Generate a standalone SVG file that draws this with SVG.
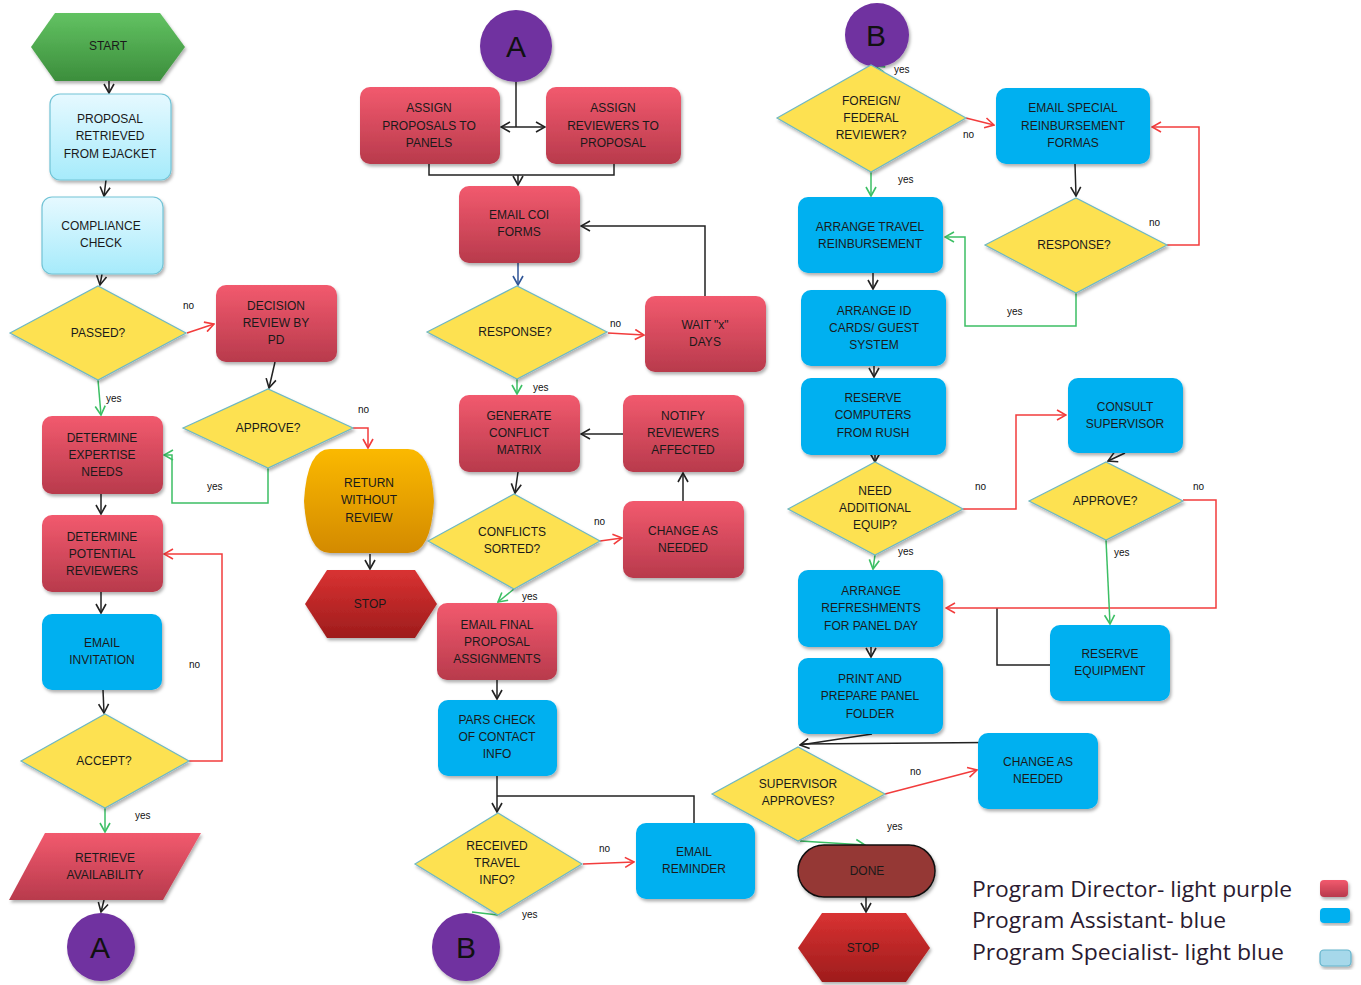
<svg xmlns="http://www.w3.org/2000/svg" width="1361" height="985" viewBox="0 0 1361 985">
<style>
.t{font-family:"Liberation Sans",Arial,sans-serif;font-size:12px;fill:#1a1a1a;text-anchor:middle}
.big{font-family:"Liberation Sans",Arial,sans-serif;font-size:30px;fill:#111;text-anchor:middle}
.lbl{font-family:"Liberation Sans",Arial,sans-serif;font-size:10px;fill:#111}
.leg{font-family:"Open Sans","Liberation Sans",sans-serif;font-size:21px;fill:#2a1a30}
.dir{fill:url(#gRed);filter:url(#sh)}
.asst{fill:#00b0f0;filter:url(#sh)}
.spec{fill:url(#gLight);stroke:#72c4d6;stroke-width:1.2;filter:url(#sh)}
.dec{fill:#fde151;stroke:#6fb8c2;stroke-width:1.2;filter:url(#sh)}
.circ{fill:#7030a0;filter:url(#sh)}
.c{fill:none;stroke:#222;stroke-width:1.5}
.r{stroke:#f23c3c}
.g{stroke:#3cbf64}
.b{stroke:#2f5597}
.ma{marker-end:url(#ak)}
.mr{marker-end:url(#ar)}
.mg{marker-end:url(#ag)}
.mb{marker-end:url(#ab)}
</style>
<defs>
<linearGradient id="gRed" x1="0" y1="0" x2="0" y2="1"><stop offset="0" stop-color="#f25a6e"/><stop offset="1" stop-color="#b83a4c"/></linearGradient>
<linearGradient id="gLight" x1="0" y1="0" x2="0" y2="1"><stop offset="0" stop-color="#e6f9ff"/><stop offset="1" stop-color="#a6ebfb"/></linearGradient>
<linearGradient id="gGreen" x1="0" y1="0" x2="0" y2="1"><stop offset="0" stop-color="#62c262"/><stop offset="1" stop-color="#3c8e3c"/></linearGradient>
<linearGradient id="gOrange" x1="0" y1="0" x2="0" y2="1"><stop offset="0" stop-color="#fbb900"/><stop offset="1" stop-color="#d38a00"/></linearGradient>
<linearGradient id="gStop" x1="0" y1="0" x2="0" y2="1"><stop offset="0" stop-color="#d93232"/><stop offset="1" stop-color="#9e1c1c"/></linearGradient>
<filter id="sh" x="-20%" y="-20%" width="140%" height="140%"><feDropShadow dx="1.5" dy="2.5" stdDeviation="1.8" flood-color="#000" flood-opacity="0.3"/></filter>
<marker id="ak" viewBox="0 0 12 12" refX="11" refY="6" markerWidth="12" markerHeight="12" markerUnits="userSpaceOnUse" orient="auto"><path d="M2,1 L11,6 L2,11" fill="none" stroke="#222" stroke-width="1.6"/></marker>
<marker id="ar" viewBox="0 0 12 12" refX="11" refY="6" markerWidth="12" markerHeight="12" markerUnits="userSpaceOnUse" orient="auto"><path d="M2,1 L11,6 L2,11" fill="none" stroke="#f23c3c" stroke-width="1.6"/></marker>
<marker id="ag" viewBox="0 0 12 12" refX="11" refY="6" markerWidth="12" markerHeight="12" markerUnits="userSpaceOnUse" orient="auto"><path d="M2,1 L11,6 L2,11" fill="none" stroke="#3cbf64" stroke-width="1.6"/></marker>
<marker id="ab" viewBox="0 0 12 12" refX="11" refY="6" markerWidth="12" markerHeight="12" markerUnits="userSpaceOnUse" orient="auto"><path d="M2,1 L11,6 L2,11" fill="none" stroke="#2f5597" stroke-width="1.6"/></marker>
</defs>
<rect width="1361" height="985" fill="#fff"/>

<g id="connectors">
<path class="c ma" d="M109,81 L109,93"/>
<path class="c ma" d="M106,180 L104,196"/>
<path class="c ma" d="M102,274 L100,285"/>
<path class="c r mr" d="M187,333 L214,324"/>
<path class="c g mg" d="M98,380 L101,415"/>
<path class="c ma" d="M275,362 L269,388"/>
<path class="c r mr" d="M353,428 L368,428 L368,448"/>
<path class="c g mg" d="M268,468 L268,503 L172,503 L172,455 L164,455"/>
<path class="c ma" d="M370,554 L370,569"/>
<path class="c ma" d="M101,494 L101,514"/>
<path class="c ma" d="M101,592 L101,613"/>
<path class="c ma" d="M103,690 L104,713"/>
<path class="c r mr" d="M189,761 L222,761 L222,554 L164,554"/>
<path class="c g mg" d="M105,808 L105,832"/>
<path class="c ma" d="M104,900 L101,912"/>
<path class="c" d="M516,82 L516,127"/>
<path class="c ma" d="M516,127 L501,127"/>
<path class="c ma" d="M516,127 L545,127"/>
<path class="c" d="M429,164 L429,175 L614,175 L614,164"/>
<path class="c ma" d="M518,175 L518,185"/>
<path class="c b mb" d="M518,263 L518,285"/>
<path class="c r mr" d="M608,333 L644,335"/>
<path class="c ma" d="M705,296 L705,226 L581,226"/>
<path class="c g mg" d="M517,379 L517,394"/>
<path class="c ma" d="M623,434 L581,434"/>
<path class="c ma" d="M518,472 L515,493"/>
<path class="c r mr" d="M600,541 L622,538"/>
<path class="c ma" d="M683,501 L683,473"/>
<path class="c g mg" d="M514,589 L498,602"/>
<path class="c ma" d="M497,680 L497,699"/>
<path class="c ma" d="M497,776 L497,812"/>
<path class="c" d="M694,823 L694,796 L497,796"/>
<path class="c r mr" d="M583,864 L634,862"/>
<path class="c g" d="M498,915 L472,912"/>
<path class="c g mg" d="M884,72 L875,66"/>
<path class="c r mr" d="M966,118 L994,125"/>
<path class="c g mg" d="M871,172 L871,196"/>
<path class="c ma" d="M1075,164 L1076,196"/>
<path class="c r mr" d="M1167,245 L1199,245 L1199,127 L1152,127"/>
<path class="c g mg" d="M1076,293 L1076,326 L965,326 L965,237 L945,237"/>
<path class="c ma" d="M873,273 L873,289"/>
<path class="c ma" d="M874,366 L874,377"/>
<path class="c ma" d="M875,455 L875,462"/>
<path class="c r mr" d="M963,509 L1016,509 L1016,415 L1066,415"/>
<path class="c ma" d="M1125,453 L1108,461"/>
<path class="c" d="M1050,665 L997,665 L997,608"/>
<path class="c r mr" d="M1183,500 L1216,500 L1216,608 L946,608"/>
<path class="c g mg" d="M1106,540 L1110,624"/>
<path class="c g mg" d="M875,555 L873,569"/>
<path class="c ma" d="M871,647 L871,657"/>
<path class="c" d="M1040,733 L1040,742 L801,744"/>
<path class="c ma" d="M872,734 L800,745"/>
<path class="c r mr" d="M885,794 L977,770"/>
<path class="c g mg" d="M800,841 L865,845"/>
<path class="c ma" d="M866,897 L866,912"/>
</g>

<g id="edge-labels">
<text class="lbl" x="183" y="309">no</text>
<text class="lbl" x="106" y="402">yes</text>
<text class="lbl" x="358" y="413">no</text>
<text class="lbl" x="207" y="490">yes</text>
<text class="lbl" x="189" y="668">no</text>
<text class="lbl" x="135" y="819">yes</text>
<text class="lbl" x="610" y="327">no</text>
<text class="lbl" x="533" y="391">yes</text>
<text class="lbl" x="594" y="525">no</text>
<text class="lbl" x="522" y="600">yes</text>
<text class="lbl" x="599" y="852">no</text>
<text class="lbl" x="522" y="918">yes</text>
<text class="lbl" x="894" y="73">yes</text>
<text class="lbl" x="963" y="138">no</text>
<text class="lbl" x="898" y="183">yes</text>
<text class="lbl" x="1149" y="226">no</text>
<text class="lbl" x="1007" y="315">yes</text>
<text class="lbl" x="975" y="490">no</text>
<text class="lbl" x="1193" y="490">no</text>
<text class="lbl" x="898" y="555">yes</text>
<text class="lbl" x="1114" y="556">yes</text>
<text class="lbl" x="910" y="775">no</text>
<text class="lbl" x="887" y="830">yes</text>
</g>

<g id="start"><polygon points="31,47 55,13 160,13 185,47 160,81 55,81" fill="url(#gGreen)" filter="url(#sh)"/><text class="t" x="108" y="50">START</text></g>
<g id="proposal-retrieved"><rect class="spec" x="50" y="94" width="121" height="86" rx="10"/><text class="t" x="110" y="123">PROPOSAL</text><text class="t" x="110" y="140">RETRIEVED</text><text class="t" x="110" y="158">FROM EJACKET</text></g>
<g id="compliance-check"><rect class="spec" x="42" y="197" width="121" height="77" rx="10"/><text class="t" x="101" y="230">COMPLIANCE</text><text class="t" x="101" y="247">CHECK</text></g>
<g id="passed"><polygon class="dec" points="10,333 98,286 186,333 98,380"/><text class="t" x="98" y="337">PASSED?</text></g>
<g id="decision-review"><rect class="dir" x="216" y="285" width="121" height="77" rx="10"/><text class="t" x="276" y="310">DECISION</text><text class="t" x="276" y="327">REVIEW BY</text><text class="t" x="276" y="344">PD</text></g>
<g id="approve-pd"><polygon class="dec" points="183,428 268,389 353,428 268,468"/><text class="t" x="268" y="432">APPROVE?</text></g>
<g id="return-without-review"><path d="M330,449 H408 Q431,449 434,501 Q431,553 408,553 H330 Q307,553 304,501 Q307,449 330,449 Z" fill="url(#gOrange)" filter="url(#sh)"/><text class="t" x="369" y="487">RETURN</text><text class="t" x="369" y="504">WITHOUT</text><text class="t" x="369" y="522">REVIEW</text></g>
<g id="stop-1"><polygon points="305,604 327,570 415,570 437,604 415,638 327,638" fill="url(#gStop)" filter="url(#sh)"/><text class="t" x="370" y="608">STOP</text></g>
<g id="determine-expertise"><rect class="dir" x="42" y="416" width="121" height="78" rx="10"/><text class="t" x="102" y="442">DETERMINE</text><text class="t" x="102" y="459">EXPERTISE</text><text class="t" x="102" y="476">NEEDS</text></g>
<g id="determine-reviewers"><rect class="dir" x="42" y="515" width="121" height="77" rx="10"/><text class="t" x="102" y="541">DETERMINE</text><text class="t" x="102" y="558">POTENTIAL</text><text class="t" x="102" y="575">REVIEWERS</text></g>
<g id="email-invitation"><rect class="asst" x="42" y="614" width="120" height="76" rx="10"/><text class="t" x="102" y="647">EMAIL</text><text class="t" x="102" y="664">INVITATION</text></g>
<g id="accept"><polygon class="dec" points="21,761 105,714 189,761 105,808"/><text class="t" x="104" y="765">ACCEPT?</text></g>
<g id="retrieve-availability"><polygon points="45,833 201,833 163,900 9,900" fill="url(#gRed)" filter="url(#sh)"/><text class="t" x="105" y="862">RETRIEVE</text><text class="t" x="105" y="879">AVAILABILITY</text></g>
<g id="connector-a-out"><circle class="circ" cx="101" cy="947" r="34"/><text class="big" x="100" y="958">A</text></g>

<g id="connector-a-in"><circle class="circ" cx="516" cy="46" r="36"/><text class="big" x="516" y="57">A</text></g>
<g id="assign-proposals"><rect class="dir" x="360" y="87" width="140" height="77" rx="10"/><text class="t" x="429" y="112">ASSIGN</text><text class="t" x="429" y="130">PROPOSALS TO</text><text class="t" x="429" y="147">PANELS</text></g>
<g id="assign-reviewers"><rect class="dir" x="546" y="87" width="135" height="77" rx="10"/><text class="t" x="613" y="112">ASSIGN</text><text class="t" x="613" y="130">REVIEWERS TO</text><text class="t" x="613" y="147">PROPOSAL</text></g>
<g id="email-coi"><rect class="dir" x="459" y="186" width="121" height="77" rx="10"/><text class="t" x="519" y="219">EMAIL COI</text><text class="t" x="519" y="236">FORMS</text></g>
<g id="response-1"><polygon class="dec" points="427,332 517,286 607,332 517,379"/><text class="t" x="515" y="336">RESPONSE?</text></g>
<g id="wait-days"><rect class="dir" x="645" y="296" width="121" height="76" rx="10"/><text class="t" x="705" y="329">WAIT "x"</text><text class="t" x="705" y="346">DAYS</text></g>
<g id="generate-matrix"><rect class="dir" x="459" y="395" width="121" height="77" rx="10"/><text class="t" x="519" y="420">GENERATE</text><text class="t" x="519" y="437">CONFLICT</text><text class="t" x="519" y="454">MATRIX</text></g>
<g id="notify-reviewers"><rect class="dir" x="623" y="395" width="121" height="77" rx="10"/><text class="t" x="683" y="420">NOTIFY</text><text class="t" x="683" y="437">REVIEWERS</text><text class="t" x="683" y="454">AFFECTED</text></g>
<g id="conflicts-sorted"><polygon class="dec" points="428,541 514,494 600,541 514,589"/><text class="t" x="512" y="536">CONFLICTS</text><text class="t" x="512" y="553">SORTED?</text></g>
<g id="change-as-needed-1"><rect class="dir" x="623" y="501" width="121" height="77" rx="10"/><text class="t" x="683" y="535">CHANGE AS</text><text class="t" x="683" y="552">NEEDED</text></g>
<g id="email-final"><rect class="dir" x="437" y="603" width="120" height="77" rx="10"/><text class="t" x="497" y="629">EMAIL FINAL</text><text class="t" x="497" y="646">PROPOSAL</text><text class="t" x="497" y="663">ASSIGNMENTS</text></g>
<g id="pars-check"><rect class="asst" x="438" y="700" width="119" height="76" rx="10"/><text class="t" x="497" y="724">PARS CHECK</text><text class="t" x="497" y="741">OF CONTACT</text><text class="t" x="497" y="758">INFO</text></g>
<g id="received-travel"><polygon class="dec" points="415,864 498,813 582,864 498,915"/><text class="t" x="497" y="850">RECEIVED</text><text class="t" x="497" y="867">TRAVEL</text><text class="t" x="497" y="884">INFO?</text></g>
<g id="email-reminder"><rect class="asst" x="636" y="823" width="119" height="76" rx="10"/><text class="t" x="694" y="856">EMAIL</text><text class="t" x="694" y="873">REMINDER</text></g>
<g id="connector-b-out"><circle class="circ" cx="466" cy="947" r="34"/><text class="big" x="466" y="958">B</text></g>

<g id="connector-b-in"><circle class="circ" cx="877" cy="35" r="32"/><text class="big" x="876" y="46">B</text></g>
<g id="foreign-federal"><polygon class="dec" points="777,118 871,65 966,118 871,172"/><text class="t" x="871" y="105">FOREIGN/</text><text class="t" x="871" y="122">FEDERAL</text><text class="t" x="871" y="139">REVIEWER?</text></g>
<g id="email-special"><rect class="asst" x="996" y="88" width="154" height="76" rx="10"/><text class="t" x="1073" y="112">EMAIL SPECIAL</text><text class="t" x="1073" y="130">REINBURSEMENT</text><text class="t" x="1073" y="147">FORMAS</text></g>
<g id="response-2"><polygon class="dec" points="985,245 1076,198 1167,245 1076,293"/><text class="t" x="1074" y="249">RESPONSE?</text></g>
<g id="arrange-travel"><rect class="asst" x="798" y="197" width="145" height="76" rx="10"/><text class="t" x="870" y="231">ARRANGE TRAVEL</text><text class="t" x="870" y="248">REINBURSEMENT</text></g>
<g id="arrange-id"><rect class="asst" x="801" y="290" width="145" height="76" rx="10"/><text class="t" x="874" y="315">ARRANGE ID</text><text class="t" x="874" y="332">CARDS/ GUEST</text><text class="t" x="874" y="349">SYSTEM</text></g>
<g id="reserve-computers"><rect class="asst" x="801" y="378" width="145" height="77" rx="10"/><text class="t" x="873" y="402">RESERVE</text><text class="t" x="873" y="419">COMPUTERS</text><text class="t" x="873" y="437">FROM RUSH</text></g>
<g id="need-equip"><polygon class="dec" points="788,509 875,462 963,509 875,555"/><text class="t" x="875" y="495">NEED</text><text class="t" x="875" y="512">ADDITIONAL</text><text class="t" x="875" y="529">EQUIP?</text></g>
<g id="consult-supervisor"><rect class="asst" x="1068" y="378" width="115" height="75" rx="10"/><text class="t" x="1125" y="411">CONSULT</text><text class="t" x="1125" y="428">SUPERVISOR</text></g>
<g id="approve-2"><polygon class="dec" points="1029,501 1106,462 1183,501 1106,540"/><text class="t" x="1105" y="505">APPROVE?</text></g>
<g id="arrange-refreshments"><rect class="asst" x="798" y="570" width="145" height="77" rx="10"/><text class="t" x="871" y="595">ARRANGE</text><text class="t" x="871" y="612">REFRESHMENTS</text><text class="t" x="871" y="630">FOR PANEL DAY</text></g>
<g id="reserve-equipment"><rect class="asst" x="1050" y="625" width="120" height="76" rx="10"/><text class="t" x="1110" y="658">RESERVE</text><text class="t" x="1110" y="675">EQUIPMENT</text></g>
<g id="print-folder"><rect class="asst" x="798" y="658" width="145" height="76" rx="10"/><text class="t" x="870" y="683">PRINT AND</text><text class="t" x="870" y="700">PREPARE PANEL</text><text class="t" x="870" y="718">FOLDER</text></g>
<g id="supervisor-approves"><polygon class="dec" points="712,794 798,747 885,794 798,841"/><text class="t" x="798" y="788">SUPERVISOR</text><text class="t" x="798" y="805">APPROVES?</text></g>
<g id="change-as-needed-2"><rect class="asst" x="978" y="733" width="120" height="76" rx="10"/><text class="t" x="1038" y="766">CHANGE AS</text><text class="t" x="1038" y="783">NEEDED</text></g>
<g id="done"><rect x="798" y="845" width="137" height="52" rx="26" fill="#953735" stroke="#111" stroke-width="1.5" filter="url(#sh)"/><text class="t" x="867" y="875">DONE</text></g>
<g id="stop-2"><polygon points="798,948 822,913 906,913 930,948 906,982 822,982" fill="url(#gStop)" filter="url(#sh)"/><text class="t" x="863" y="952">STOP</text></g>

<g id="legend">
<text class="leg" x="972" y="897" textLength="320" lengthAdjust="spacingAndGlyphs">Program Director- light purple</text>
<text class="leg" x="972" y="928" textLength="254" lengthAdjust="spacingAndGlyphs">Program Assistant- blue</text>
<text class="leg" x="972" y="960" textLength="312" lengthAdjust="spacingAndGlyphs">Program Specialist- light blue</text>
<rect class="dir" x="1320" y="880" width="28" height="17" rx="4"/>
<rect class="asst" x="1320" y="908" width="30" height="15" rx="4"/>
<rect x="1320" y="950" width="31" height="16" rx="4" fill="#a6d8ea" stroke="#62b3cb" stroke-width="1.2" filter="url(#sh)"/>
</g>
</svg>
